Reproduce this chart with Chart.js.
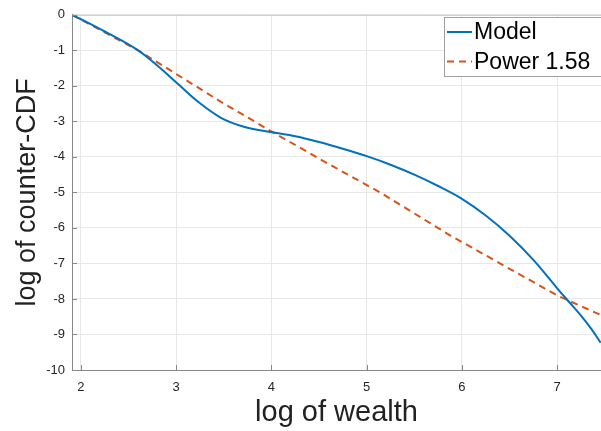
<!DOCTYPE html>
<html>
<head>
<meta charset="utf-8">
<script src="https://cdn.jsdelivr.net/npm/chart.js@4.4.1/dist/chart.umd.min.js"></script>
<style>
  html, body { margin: 0; padding: 0; background: #fff; }
  #wrap { width: 601px; height: 431px; position: relative; }
</style>
</head>
<body>
<div id="wrap"><canvas id="chart"></canvas></div>
<script>
// ── datos ─────────────────────────────────────────────────
const modelX = [1.906, 2.25, 2.6, 2.81, 3.02, 3.23, 3.47, 3.71, 3.99, 4.25, 4.5, 4.75, 5.0,
                5.25, 5.5, 5.75, 6.0, 6.25, 6.5, 6.75, 7.0, 7.13, 7.25, 7.36, 7.456];
const modelY = [0, -0.47, -1.0, -1.45, -1.95, -2.45, -2.9, -3.15, -3.3, -3.42, -3.58, -3.77, -3.98,
                -4.22, -4.5, -4.82, -5.18, -5.65, -6.22, -6.9, -7.7, -8.1, -8.47, -8.85, -9.23];

const powerX = [1.906, 2.6, 3.47, 3.96, 4.5, 5.14, 5.87, 6.5, 7.0, 7.456];
const powerY = [0, -1.0, -2.45, -3.22, -4.05, -5.0, -6.2, -7.15, -7.9, -8.45];

const xTicks = [2, 3, 4, 5, 6, 7];
const yTicks = [0, -1, -2, -3, -4, -5, -6, -7, -8, -9, -10];
const xLimits = [1.906, 7.46];
const yLimits = [-10, 0];

const FONT = '"Liberation Sans", Arial, Helvetica, sans-serif';
const toPoints = (xs, ys) => xs.map((x, i) => ({ x, y: ys[i] }));

// ── marco superior y ticks hacia dentro (estilo MATLAB) ───
const axesBox = {
  id: 'axesBox',
  afterDatasetsDraw(chart) {
    const { ctx, chartArea: a, scales: { x, y } } = chart;
    ctx.save();
    ctx.strokeStyle = '#c4c4c4';
    ctx.lineWidth = 1;
    ctx.beginPath();
    ctx.moveTo(a.left, a.top + 0.5);
    ctx.lineTo(a.right, a.top + 0.5);
    ctx.stroke();
    ctx.strokeStyle = '#888888';
    ctx.beginPath();
    xTicks.forEach(v => {
      const px = Math.round(x.getPixelForValue(v)) + 0.5;
      ctx.moveTo(px, a.bottom); ctx.lineTo(px, a.bottom - 5);
    });
    yTicks.forEach(v => {
      const py = Math.round(y.getPixelForValue(v)) + 0.5;
      ctx.moveTo(a.left, py); ctx.lineTo(a.left + 5, py);
    });
    ctx.stroke();
    ctx.restore();
  }
};

// ── leyenda tipo MATLAB dentro del área ───────────────────
const boxLegend = {
  id: 'boxLegend',
  afterDraw(chart) {
    const { ctx } = chart;
    const left = 444, top = 17, bottom = 76;
    ctx.save();
    ctx.fillStyle = '#ffffff';
    ctx.fillRect(left, top, 200, bottom - top);
    ctx.strokeStyle = '#a0a0a0';
    ctx.lineWidth = 1;
    ctx.strokeRect(left + 0.5, top + 0.5, 200, bottom - top);
    chart.data.datasets.forEach((ds, i) => {
      const y = 32 + i * 29.5;
      ctx.strokeStyle = ds.borderColor;
      ctx.lineWidth = ds.borderWidth;
      ctx.setLineDash(ds.borderDash || []);
      ctx.beginPath();
      ctx.moveTo(447, y);
      ctx.lineTo(472, y);
      ctx.stroke();
      ctx.setLineDash([]);
      ctx.fillStyle = '#000';
      ctx.font = '23px ' + FONT;
      ctx.textBaseline = 'middle';
      ctx.textAlign = 'left';
      ctx.fillText(ds.label, 474, y + 1);
    });
    ctx.restore();
  }
};

new Chart(document.getElementById('chart'), {
  type: 'scatter',
  data: {
    datasets: [
      {
        label: 'Model',
        data: toPoints(modelX, modelY),
        showLine: true,
        borderColor: '#0072BD',
        borderWidth: 2,
        pointRadius: 0,
        tension: 0.35
      },
      {
        label: 'Power 1.58',
        data: toPoints(powerX, powerY),
        showLine: true,
        borderColor: '#D95319',
        borderWidth: 2,
        borderDash: [7, 5],
        pointRadius: 0
      }
    ]
  },
  options: {
    responsive: true, maintainAspectRatio: false, animation: false,
    layout: { padding: { top: 10, right: 0, left: 0, bottom: 0 } },
    plugins: { legend: { display: false }, tooltip: { enabled: false } },
    scales: {
      x: {
        type: 'linear', min: xLimits[0], max: xLimits[1],
        afterBuildTicks: s => { s.ticks = xTicks.map(v => ({ value: v })); },
        afterFit: s => { s.height = 61; },
        grid: { color: '#e8e8e8', drawTicks: false },
        border: { color: '#888888', width: 1 },
        ticks: { color: '#262626', padding: 10, font: { family: FONT, size: 13 } },
        title: {
          display: true, text: 'log of wealth', color: '#222',
          font: { family: FONT, size: 29, lineHeight: 1.2 }, padding: { top: 0, bottom: 1 }
        }
      },
      y: {
        type: 'linear', min: yLimits[0], max: yLimits[1],
        afterBuildTicks: s => { s.ticks = yTicks.map(v => ({ value: v })); },
        afterFit: s => { s.width = 72; },
        grid: { color: '#e8e8e8', drawTicks: false },
        border: { color: '#888888', width: 1 },
        ticks: { color: '#262626', padding: 7, font: { family: FONT, size: 13 } },
        title: {
          display: true, text: 'log of counter-CDF', color: '#222',
          font: { family: FONT, size: 27, lineHeight: 1.2 }, padding: { top: 11, bottom: 0 }
        }
      }
    }
  },
  plugins: [axesBox, boxLegend]
});
</script>
</body>
</html>
